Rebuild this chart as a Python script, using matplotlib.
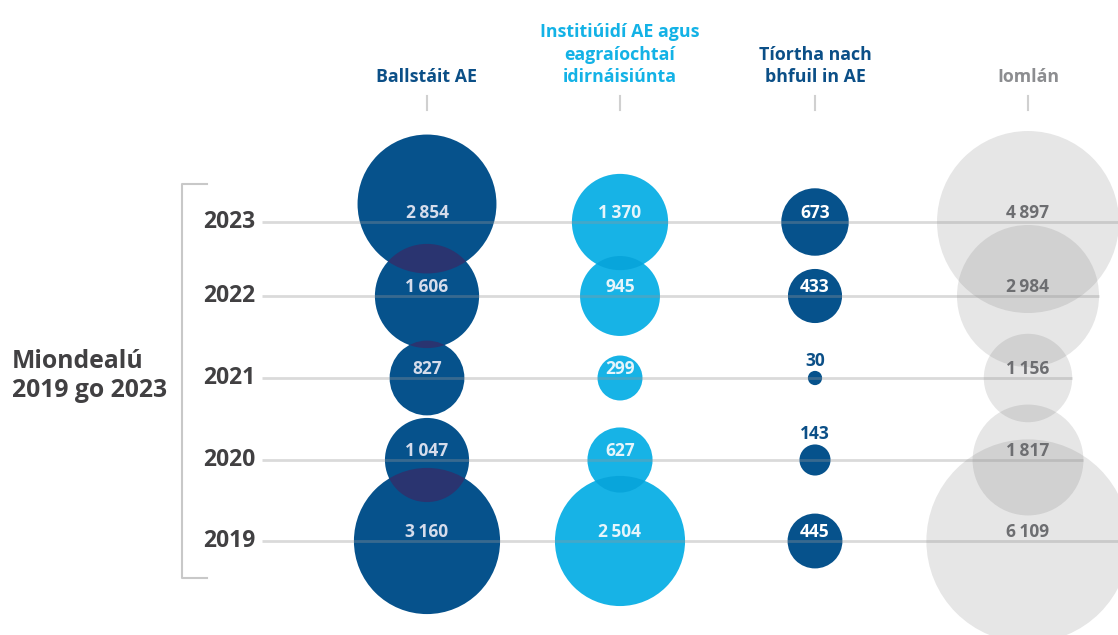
import numpy as np
import matplotlib
matplotlib.use("Agg")
import matplotlib.pyplot as plt
from matplotlib.patches import Circle

plt.rcParams['font.family'] = ['Open Sans', 'DejaVu Sans']

# data (counts per year, top row = 2023)
years = ["2023", "2022", "2021", "2020", "2019"]
headers = ["Ballstáit AE",
           "Institiúidí AE agus\neagraíochtaí\nidirnáisiúnta",
           "Tíortha nach\nbhfuil in AE",
           "Iomlán"]
member_states = [2854, 1606, 827, 1047, 3160]
institutions = [1370, 945, 299, 627, 2504]
non_eu = [673, 433, 30, 143, 445]
totals = [4897, 2984, 1156, 1817, 6109]
series = [member_states, institutions, non_eu, totals]

# layout (pixel units, figure is 1118x635)
W, H, DPI = 1118, 635, 100
col_x = [427, 620, 815, 1028]
row_y = [222, 296, 378, 460, 541]
nudge = {(0, 0): -18}          # the 2023 member-state bubble sits a bit higher
px_per_sqrt = 1.3

face = ['#06528C', '#17B3E6', '#06528C', '#646464']
alpha = [1, 1, 1, 0.16]
lens = ['#2A3470', '#08A5DB', '#2A3470', None]
label_col = ['#D5DCEB', '#E6F5FB', 'white', '#6D6E71']
head_col = ['#0B4F87', '#13B2E6', '#0B4F87', '#8C8D90']
dark_txt = '#414042'

fig = plt.figure(figsize=(W / DPI, H / DPI), dpi=DPI)
ax = fig.add_axes([0, 0, 1, 1])
ax.set_xlim(0, W)
ax.set_ylim(H, 0)
ax.axis('off')


def fmt(v):
    return f"{v:,}".replace(",", "\u2009")


def radius(v):
    return px_per_sqrt * np.sqrt(v)


def size_pt2(v):
    return (2 * radius(v) * 72 / DPI) ** 2


# bubbles
for c, vals in enumerate(series):
    xs = [col_x[c]] * len(vals)
    ys = [row_y[r] + nudge.get((c, r), 0) for r in range(len(vals))]
    ax.scatter(xs, ys, s=[size_pt2(v) for v in vals], color=face[c],
               alpha=alpha[c], edgecolors='none', zorder=2)
    # darker lens where neighbouring bubbles overlap
    if lens[c]:
        for r in range(len(vals) - 1):
            clip = Circle((xs[r], ys[r]), radius(vals[r]), transform=ax.transData)
            p = Circle((xs[r + 1], ys[r + 1]), radius(vals[r + 1]),
                       color=lens[c], lw=0, zorder=2.5)
            ax.add_patch(p)
            p.set_clip_path(clip)

# row lines, ending at the right edge of the total bubble
ax.hlines(row_y, 262, [col_x[3] + radius(v) for v in totals],
          color='#969696', alpha=0.35, lw=2, zorder=3)

# value labels
for c, vals in enumerate(series):
    for r, v in enumerate(vals):
        rad = radius(v)
        if rad < 20:
            ax.text(col_x[c], row_y[r] - rad - 1, fmt(v), ha='center', va='bottom',
                    fontsize=12.5, fontweight='bold', color=head_col[c], zorder=4)
        else:
            ax.text(col_x[c], row_y[r] - 9, fmt(v), ha='center', va='center',
                    fontsize=12.5, fontweight='bold', color=label_col[c], zorder=4)

# year labels
for r, y in enumerate(years):
    ax.text(255, row_y[r], y, ha='right', va='center', fontsize=16.5,
            fontweight='bold', color=dark_txt)

# column headers and small ticks
for c, h in enumerate(headers):
    ax.text(col_x[c], 86, h, ha='center', va='bottom', fontsize=12.8,
            fontweight='bold', color=head_col[c], linespacing=1.32)
    ax.plot([col_x[c], col_x[c]], [96, 110], color='#D0D0D0', lw=1.5)

# bracket and group title
ax.plot([207, 182, 182, 207], [184, 184, 578, 578], color='#C8C8C8', lw=1.5)
ax.text(12, 376, "Miondealú\n2019 go 2023", ha='left', va='center',
        fontsize=17.8, fontweight='bold', color=dark_txt, linespacing=1.22)

fig.savefig("out.png", dpi=DPI)
